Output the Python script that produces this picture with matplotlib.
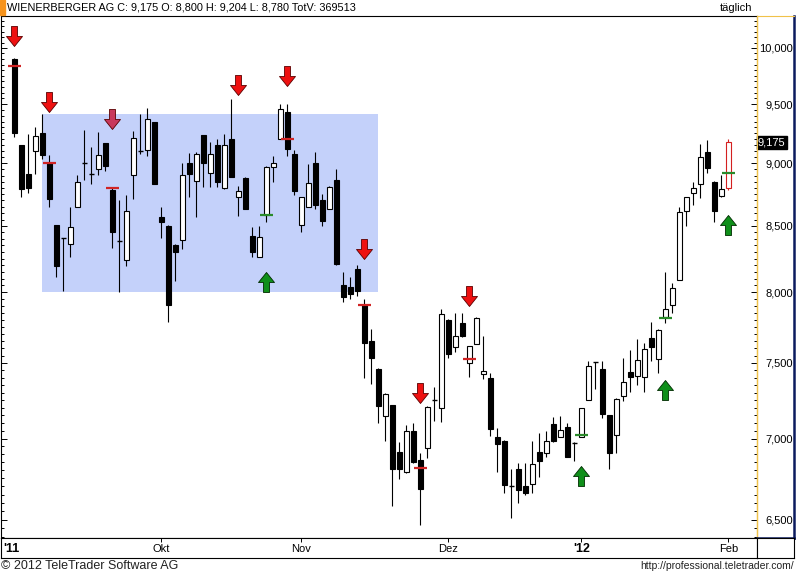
import numpy as np
import matplotlib
matplotlib.use('Agg')
import matplotlib.pyplot as plt
from matplotlib.path import Path
from matplotlib.ticker import FixedLocator, NullFormatter, FuncFormatter

plt.rcParams['font.family'] = ['Liberation Sans', 'DejaVu Sans']

W, H = 796, 575

# daily OHLC, Wienerberger AG (Sep 2011 - Feb 2012)
opens = [9900, 9150, 8915, 9100, 9255, 9005, 8505, 8405, 8360, 8650,
         9005, 8915, 8955, 9165, 8785, 8385, 8240, 8905, 9105, 9110,
         9345, 8570, 8500, 8355, 8390, 9005, 8855, 9235, 8920, 9150,
         8800, 9205, 8730, 8880, 8420, 8265, 8585, 8970, 9205, 9435,
         9075, 8505, 8650, 9005, 8705, 8635, 8865, 8055, 8040, 8175,
         7910, 7655, 7460, 7145, 7215, 6915, 6790, 7050, 6865, 6940,
         7250, 7200, 7800, 7610, 7780, 7500, 7630, 7425, 7400, 7010,
         6985, 6700, 6805, 6705, 6715, 6915, 6910, 7095, 7010, 7075,
         6970, 7010, 7250, 7505, 7460, 7150, 7025, 7280, 7440, 7410,
         7405, 7675, 7530, 7820, 7910, 8090, 8615, 8760, 8830, 9095,
         8850, 8735, 8800]
highs = [9910, 9155, 9245, 9305, 9415, 9070, 8510, 8410, 8650, 8905,
         9280, 9135, 9260, 9170, 8800, 8705, 8745, 9270, 9415, 9465,
         9350, 8650, 8505, 8360, 9005, 9085, 9095, 9240, 9180, 9205,
         9245, 9545, 8815, 8890, 8490, 8500, 8975, 9060, 9500, 9500,
         9110, 8730, 8995, 9095, 8750, 8815, 8955, 8150, 8115, 8200,
         7950, 7735, 7465, 7300, 7220, 6980, 7090, 7100, 6910, 7210,
         7340, 7880, 7805, 7850, 7850, 7620, 7825, 7690, 7430, 7070,
         6990, 6805, 6845, 6845, 6985, 7035, 7050, 7140, 7145, 7100,
         6975, 7200, 7515, 7510, 7515, 7155, 7265, 7535, 7590, 7665,
         7640, 7785, 7735, 8150, 8070, 8650, 8730, 8850, 9160, 9195,
         8852, 8905, 9204]
lows = [9220, 8730, 8760, 8915, 9035, 8650, 8115, 8010, 8260, 8645,
        8865, 8830, 8905, 8940, 8330, 8005, 8195, 8710, 9075, 9060,
        8830, 8405, 7785, 8085, 8325, 8730, 8570, 8810, 8810, 8810,
        8795, 8885, 8580, 8630, 8260, 8260, 8530, 8850, 9200, 9060,
        8745, 8455, 8645, 8635, 8500, 8630, 8205, 7930, 7950, 7975,
        7400, 7360, 7100, 6985, 6580, 6745, 6785, 6845, 6470, 6875,
        7115, 7105, 7535, 7575, 7680, 7405, 7630, 7390, 7015, 6790,
        6660, 6510, 6600, 6650, 6660, 6760, 6885, 6980, 7010, 6880,
        6860, 7010, 7250, 7325, 7135, 6810, 6910, 7245, 7305, 7350,
        7305, 7515, 7430, 7780, 7850, 8090, 8500, 8665, 8720, 8920,
        8530, 8730, 8780]
closes = [9255, 8790, 8800, 9230, 9070, 8710, 8195, 8405, 8490, 8850,
          9005, 8915, 9070, 8980, 8455, 8385, 8615, 9210, 9105, 9370,
          8835, 8530, 7910, 8300, 8905, 8915, 9075, 9005, 9075, 8850,
          9150, 8890, 8775, 8635, 8300, 8415, 8970, 9005, 9460, 9120,
          8775, 8725, 8840, 8665, 8540, 8808, 8210, 7965, 7990, 8010,
          7640, 7535, 7210, 7290, 6810, 6810, 7050, 6850, 6685, 7205,
          7250, 7845, 7560, 7690, 7685, 7615, 7815, 7445, 7060, 6965,
          6710, 6700, 6680, 6660, 6840, 6860, 6985, 6985, 7055, 6885,
          6970, 7195, 7480, 7505, 7160, 6910, 7260, 7370, 7405, 7520,
          7595, 7610, 7730, 7880, 8030, 8610, 8725, 8800, 9050, 8960,
          8615, 8790, 9175]

# trading signals
sell_idx = [0, 5, 14, 32, 39, 50, 58, 65]
sell_arrow = [10110, 9519, 9372, 9668, 9747, 8324, 7297, 7974]
sell_colors = ['#ee1111', '#ee1111', '#c8385c', '#ee1111', '#ee1111',
               '#ee1111', '#ee1111', '#ee1111']
sell_dash_idx = [0, 5, 14, 39, 50, 58, 65]
sell_dash = [9840, 9003, 8800, 9203, 7908, 6815, 7528]
buy_idx = [36, 81, 93, 102]
buy_arrow = [8073, 6762, 7318, 8507]
buy_dash = [8586, 7024, 7815, 8921]

# trading range box
box_start, box_end = 4, 52
box_low, box_high = 8000, 9415

month_idx = [21, 41, 62, 81, 102]
month_labels = ['Okt', 'Nov', 'Dez', "'12", 'Feb']

y_major = np.arange(6500, 10001, 500)
y_minor = np.arange(6400, 10301, 50)

fig = plt.figure(figsize=(W / 100, H / 100), dpi=100)


def px_rect(x0, y0, x1, y1):
    return [x0 / W, 1 - y1 / H, (x1 - x0) / W, (y1 - y0) / H]


ax = fig.add_axes(px_rect(0.5, 15.5, 756.5, 537.5))
n = len(opens)
x = np.arange(n)
o = np.array(opens, float)
hi = np.array(highs, float)
lo = np.array(lows, float)
c = np.array(closes, float)

bw = 0.72
last = n - 1
wick_col = ['black'] * n
wick_col[last] = '#d42020'
ax.vlines(x, lo, hi, colors=wick_col, lw=0.8, zorder=3)

for i in range(n):
    top, bot = max(o[i], c[i]), min(o[i], c[i])
    if top == bot:
        ax.hlines(top, i - bw / 2, i + bw / 2, colors='black', lw=1.0, zorder=4)
        continue
    if i == last:
        fc, ec = 'white', '#d42020'
    elif c[i] < o[i]:
        fc, ec = 'black', 'black'
    else:
        fc, ec = 'white', 'black'
    ax.bar(i, top - bot, bottom=bot, width=bw, color=fc, edgecolor=ec,
           linewidth=0.8, zorder=4)

# range box
ax.fill_between([box_start, box_end], box_low, box_high, color='#c4d1fa',
                lw=0, zorder=1)

# arrows
down = Path([(-0.3, 1), (0.3, 1), (0.3, 0), (0.8, 0), (0, -1), (-0.8, 0), (-0.3, 0), (-0.3, 1)],
            [Path.MOVETO] + [Path.LINETO] * 6 + [Path.CLOSEPOLY])
up = Path([(-0.3, -1), (0.3, -1), (0.3, 0), (0.8, 0), (0, 1), (-0.8, 0), (-0.3, 0), (-0.3, -1)],
          [Path.MOVETO] + [Path.LINETO] * 6 + [Path.CLOSEPOLY])
for i, v, col in zip(sell_idx, sell_arrow, sell_colors):
    ax.plot(i, v, ls='none', marker=down, ms=14.4, mfc=col,
            mec='#5a0000', mew=0.6, zorder=5)
ax.plot(buy_idx, buy_arrow, ls='none', marker=up, ms=14.4, mfc='#0f8f1a',
        mec='#002a00', mew=0.6, zorder=5)

# signal levels
for i, v in zip(sell_dash_idx, sell_dash):
    ax.hlines(v, i - 0.9, i + 0.9, colors='#d02424', lw=1.6, zorder=5)
for i, v in zip(buy_idx, buy_dash):
    ax.hlines(v, i - 0.9, i + 0.9, colors='#2a8a2a', lw=1.6, zorder=5)

ax.set_xlim((0.5 - 14.3) / 7, (756.5 - 14.3) / 7)
ax.set_yscale('log')
ax.set_ylim(6395, 10301)
ax.yaxis.set_major_locator(FixedLocator(y_major))
ax.yaxis.set_minor_locator(FixedLocator(y_minor))
ax.yaxis.set_major_formatter(FuncFormatter(lambda v, p: f'{v:,.0f}'))
ax.yaxis.set_minor_formatter(NullFormatter())
ax.set_xticks([])
ax.tick_params(axis='y', which='both', direction='in', left=True, right=True,
               labelleft=False, labelright=True, width=0.7)
ax.tick_params(axis='y', which='major', length=4.5, pad=26.5, labelsize=8)
ax.tick_params(axis='y', which='minor', length=2)
for t in ax.yaxis.get_major_ticks():
    t.label2.set_horizontalalignment('right')
for s in ['top', 'left', 'bottom']:
    ax.spines[s].set_linewidth(0.8)
ax.spines['right'].set_color('#f0c24a')
ax.spines['right'].set_linewidth(1.0)

# last price tag
ax.annotate(f'{closes[-1]:,.0f}',
            xy=(1.0, closes[-1]), xycoords=('axes fraction', 'data'),
            xytext=(1, 0), textcoords='offset points', ha='left', va='center',
            fontsize=8, color='white',
            bbox=dict(boxstyle='square,pad=0.12', fc='black', ec='black'),
            annotation_clip=False, zorder=10)

# right price panel frame
axr = fig.add_axes(px_rect(756.5, 15.5, 793.5, 537.5))
axr.set_facecolor('none')
axr.set_xticks([])
axr.set_yticks([])
axr.spines['left'].set_color('#f0c24a')
axr.spines['top'].set_color('#f0c24a')
axr.spines['right'].set_color('#0b1a5e')
axr.spines['bottom'].set_color('#0b1a5e')
axr.spines['right'].set_linewidth(1.8)
axr.spines['bottom'].set_linewidth(1.8)

# date strip
ax2 = fig.add_axes(px_rect(0.5, 537.5, 756.5, 557.5))
ax2.set_xlim(ax.get_xlim())
ax2.set_yticks([])
ax2.set_xticks(month_idx)
ax2.tick_params(axis='x', top=True, bottom=False, direction='in', length=3,
                width=0.7, labelbottom=False)
for s in ax2.spines.values():
    s.set_linewidth(0.8)
for i, lbl in zip(month_idx, month_labels):
    bold = lbl.startswith("'")
    ax2.text(i, 0.45, lbl, transform=ax2.get_xaxis_transform(), ha='center',
             va='center', fontsize=9 if bold else 8,
             fontweight='bold' if bold else 'normal')
ax2.text(0.003, 0.45, "'11", transform=ax2.transAxes, ha='left', va='center',
         fontsize=9, fontweight='bold')

ax3 = fig.add_axes(px_rect(756.5, 537.5, 793.5, 557.5))
ax3.set_xticks([])
ax3.set_yticks([])
for s in ax3.spines.values():
    s.set_linewidth(0.8)

# header
fig.patches.append(plt.Rectangle((0, 1 - 15 / H), 5 / W, 15 / H, transform=fig.transFigure,
                                 color='#f7941d', zorder=5))
fig.text(7 / W, 1 - 8 / H, 'WIENERBERGER AG C: 9,175 O: 8,800 H: 9,204 L: 8,780 TotV: 369513',
         fontsize=7.8, ha='left', va='center')
fig.text(752 / W, 1 - 8 / H, 'täglich', fontsize=8, ha='right', va='center')

# footer
fig.text(1 / W, 1 - 566 / H, '© 2012 TeleTrader Software AG', fontsize=9,
         ha='left', va='center', color='#222222')
fig.text(794 / W, 1 - 566 / H, 'http://professional.teletrader.com/', fontsize=7.5,
         ha='right', va='center', color='#222222')

fig.savefig('out.png', dpi=100)
